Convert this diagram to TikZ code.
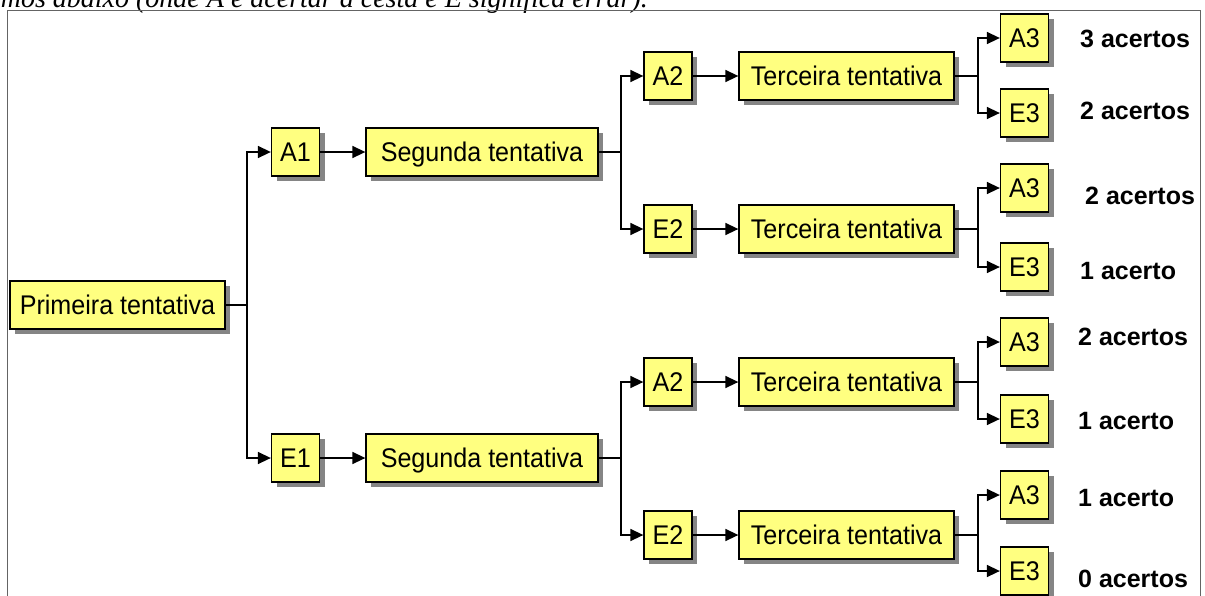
\documentclass[tikz,border=0pt]{standalone}
\usepackage{fontspec}
\setmainfont{Liberation Sans}
\newfontfamily\serifit{Liberation Serif}
\newfontfamily\nodefont[FakeStretch=0.93]{Liberation Sans}
\usetikzlibrary{arrows.meta,shadows}
\definecolor{boxyellow}{RGB}{255,255,128}
\definecolor{framegray}{RGB}{100,100,100}
\begin{document}
\begin{tikzpicture}[x=1pt,y=-1pt,
  box/.style={draw=black, line width=1.3pt, fill=boxyellow, inner sep=0pt,
    text height=19pt, text depth=0pt, font=\nodefont\fontsize{27}{32}\selectfont,
    drop shadow={shadow xshift=5pt, shadow yshift=-5pt, fill=black!48, opacity=1}},
  smallbox/.style={box, minimum width=48pt, minimum height=48pt},
  widebox/.style={box, minimum width=215pt, minimum height=48pt},
  segbox/.style={box, minimum width=232pt, minimum height=48pt},
  lab/.style={anchor=west, inner sep=0pt, text height=18pt, text depth=0pt,
    font=\bfseries\fontsize{25}{30}\selectfont},
  conn/.style={line width=1.5pt},
  arr/.style={conn, -{Triangle[length=13pt,width=12pt]}}]
\useasboundingbox (0,0) rectangle (1205,595);
\clip (0,0) rectangle (1205,595);
% partial caption at top
\node[anchor=base east, inner sep=0pt, font=\serifit\itshape\fontsize{28}{34}\selectfont] (cap) at (648,7) {mos abaixo (onde A é acertar a cesta e E significa errar).};
% frame
\draw[framegray, line width=1pt] (7,600) -- (7,10.5) -- (1200,10.5) -- (1200,600);
% nodes
\node[widebox] (P) at (117.5,305) {Primeira tentativa};
\node[smallbox] (A1) at (295.5,152) {A1};
\node[smallbox] (E1) at (295.5,458) {E1};
\node[segbox] (S1) at (482,152) {Segunda tentativa};
\node[segbox] (S2) at (482,458) {Segunda tentativa};
\node[smallbox] (A2a) at (668,76) {A2};
\node[widebox] (Ta) at (846.5,76) {Terceira tentativa};
\node[smallbox] (E2a) at (668,229) {E2};
\node[widebox] (Tb) at (846.5,229) {Terceira tentativa};
\node[smallbox] (A2b) at (668,382) {A2};
\node[widebox] (Tc) at (846.5,382) {Terceira tentativa};
\node[smallbox] (E2b) at (668,535) {E2};
\node[widebox] (Td) at (846.5,535) {Terceira tentativa};
\node[smallbox] (A3a) at (1024.5,38) {A3};
\node[smallbox] (E3a) at (1024.5,113) {E3};
\node[smallbox] (A3b) at (1024.5,188) {A3};
\node[smallbox] (E3b) at (1024.5,267) {E3};
\node[smallbox] (A3c) at (1024.5,342) {A3};
\node[smallbox] (E3c) at (1024.5,419) {E3};
\node[smallbox] (A3d) at (1024.5,495) {A3};
\node[smallbox] (E3d) at (1024.5,571) {E3};
% labels
\node[lab] (L1) at (1080,38) {3 acertos};
\node[lab] (L2) at (1080,110) {2 acertos};
\node[lab] (L3) at (1085,195) {2 acertos};
\node[lab] (L4) at (1080,270) {1 acerto};
\node[lab] (L5) at (1078,336) {2 acertos};
\node[lab] (L6) at (1078,420) {1 acerto};
\node[lab] (L7) at (1078,497) {1 acerto};
\node[lab] (L8) at (1078,578) {0 acertos};
% junctions
\coordinate (j0) at (247,305);
\coordinate (j1) at (621,152);
\coordinate (j2) at (621,458);
\coordinate (ja) at (978,76);
\coordinate (jb) at (978,229);
\coordinate (jc) at (978,382);
\coordinate (jd) at (978,535);
% connectors
\draw[conn] (P) -- (j0);
\draw[arr] (j0) |- (A1);
\draw[arr] (j0) |- (E1);
\draw[arr] (A1) -- (S1);
\draw[arr] (E1) -- (S2);
\draw[conn] (S1) -- (j1);
\draw[conn] (S2) -- (j2);
\draw[arr] (j1) |- (A2a);
\draw[arr] (j1) |- (E2a);
\draw[arr] (j2) |- (A2b);
\draw[arr] (j2) |- (E2b);
\draw[arr] (A2a) -- (Ta);
\draw[arr] (E2a) -- (Tb);
\draw[arr] (A2b) -- (Tc);
\draw[arr] (E2b) -- (Td);
\draw[conn] (Ta) -- (ja);
\draw[conn] (Tb) -- (jb);
\draw[conn] (Tc) -- (jc);
\draw[conn] (Td) -- (jd);
\draw[arr] (ja) |- (A3a);
\draw[arr] (ja) |- (E3a);
\draw[arr] (jb) |- (A3b);
\draw[arr] (jb) |- (E3b);
\draw[arr] (jc) |- (A3c);
\draw[arr] (jc) |- (E3c);
\draw[arr] (jd) |- (A3d);
\draw[arr] (jd) |- (E3d);
\end{tikzpicture}
\end{document}
